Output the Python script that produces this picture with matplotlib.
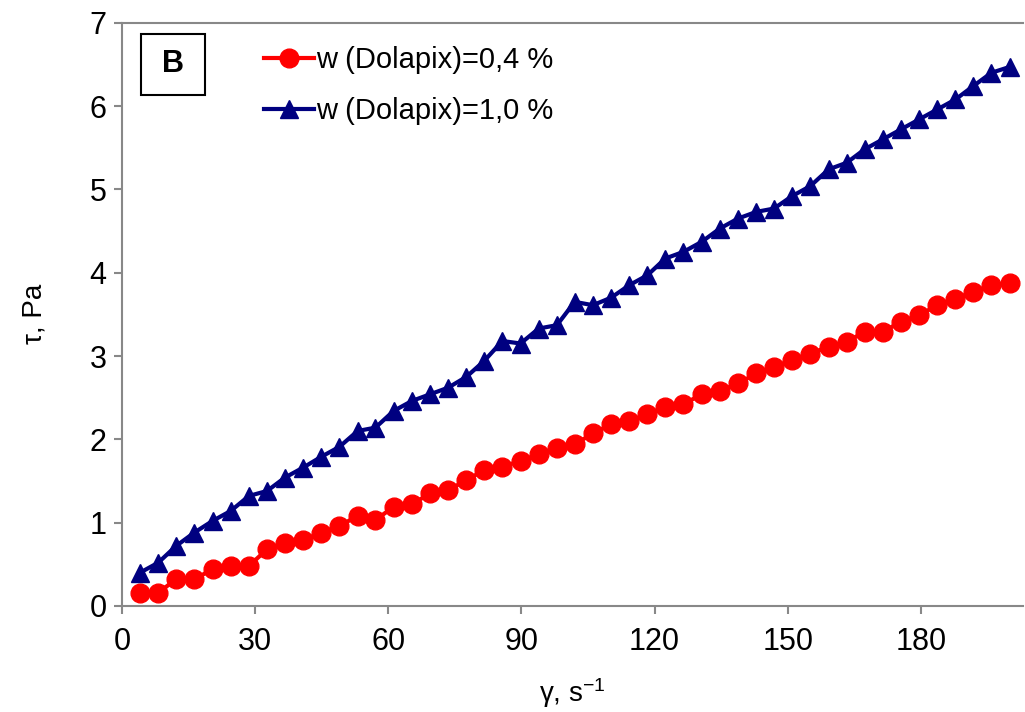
import matplotlib
matplotlib.use('Agg')
from matplotlib import pyplot as plt
from matplotlib.patches import Rectangle

plt.rcParams['font.family'] = ['Liberation Sans', 'DejaVu Sans']
plt.rcParams['mathtext.fontset'] = 'custom'
plt.rcParams['mathtext.rm'] = 'Liberation Sans'
plt.rcParams['mathtext.it'] = 'Liberation Sans'

# shear rate, s-1
shear_rate = [4.1, 8.2, 12.2, 16.3, 20.4, 24.5, 28.6, 32.7, 36.7, 40.8,
              44.9, 49.0, 53.1, 57.1, 61.2, 65.3, 69.4, 73.5, 77.6, 81.6,
              85.7, 89.8, 93.9, 98.0, 102.0, 106.1, 110.2, 114.3, 118.4, 122.4,
              126.5, 130.6, 134.7, 138.8, 142.9, 146.9, 151.0, 155.1, 159.2, 163.3,
              167.3, 171.4, 175.5, 179.6, 183.7, 187.8, 191.8, 195.9, 200.0]

# shear stress, Pa
stress_04 = [0.16, 0.16, 0.32, 0.32, 0.44, 0.48, 0.48, 0.68, 0.76, 0.79,
             0.88, 0.96, 1.08, 1.03, 1.19, 1.22, 1.35, 1.39, 1.51, 1.63,
             1.67, 1.74, 1.82, 1.90, 1.94, 2.07, 2.18, 2.22, 2.30, 2.39,
             2.42, 2.54, 2.58, 2.67, 2.79, 2.87, 2.95, 3.03, 3.11, 3.17,
             3.29, 3.29, 3.41, 3.49, 3.61, 3.69, 3.77, 3.85, 3.88]
stress_10 = [0.40, 0.52, 0.72, 0.88, 1.02, 1.14, 1.32, 1.38, 1.54, 1.66,
             1.79, 1.91, 2.10, 2.14, 2.34, 2.46, 2.54, 2.62, 2.75, 2.94,
             3.18, 3.15, 3.33, 3.37, 3.65, 3.61, 3.70, 3.85, 3.97, 4.17,
             4.25, 4.37, 4.53, 4.65, 4.73, 4.77, 4.92, 5.04, 5.24, 5.32,
             5.48, 5.60, 5.72, 5.84, 5.96, 6.08, 6.24, 6.40, 6.47]

labels = ['w (Dolapix)=0,4 %', 'w (Dolapix)=1,0 %']
x_ticks = [0, 30, 60, 90, 120, 150, 180]
y_ticks = [0, 1, 2, 3, 4, 5, 6, 7]

fig = plt.figure(figsize=(10.25, 7.12), dpi=100)
ax = fig.add_axes([0.119, 0.149, 0.879, 0.819])

ax.plot(shear_rate, stress_04, color='#FF0000', lw=3, marker='o',
        markersize=13.5, label=labels[0])
ax.plot(shear_rate, stress_10, color='#000080', lw=3, marker='^',
        markersize=13.5, label=labels[1])

ax.set_xlim(0, 203)
ax.set_ylim(0, 7)
ax.set_xticks(x_ticks)
ax.set_yticks(y_ticks)

for side in ['left', 'bottom', 'top']:
    ax.spines[side].set_color('#888888')
    ax.spines[side].set_linewidth(1.5)
ax.spines['right'].set_visible(False)
ax.tick_params(axis='both', direction='out', length=6, width=1.5,
               color='#888888', labelsize=22, pad=5)
ax.tick_params(axis='x', pad=9)

ax.set_xlabel('γ, s$^{-1}$', fontsize=20, labelpad=14)
ax.set_ylabel('τ, Pa', fontsize=20, labelpad=30)

ax.legend(loc='upper left', bbox_to_anchor=(0.135, 0.995), frameon=False,
          fontsize=21, handlelength=1.7, handletextpad=0.1,
          labelspacing=0.8, borderpad=0.2)

ax.add_patch(Rectangle((0.021, 0.877), 0.071, 0.104, transform=ax.transAxes,
                       fill=False, edgecolor='black', lw=1.5))
ax.text(0.0565, 0.929, 'B', transform=ax.transAxes, fontsize=22,
        fontweight='bold', ha='center', va='center')

plt.savefig('out.png')
